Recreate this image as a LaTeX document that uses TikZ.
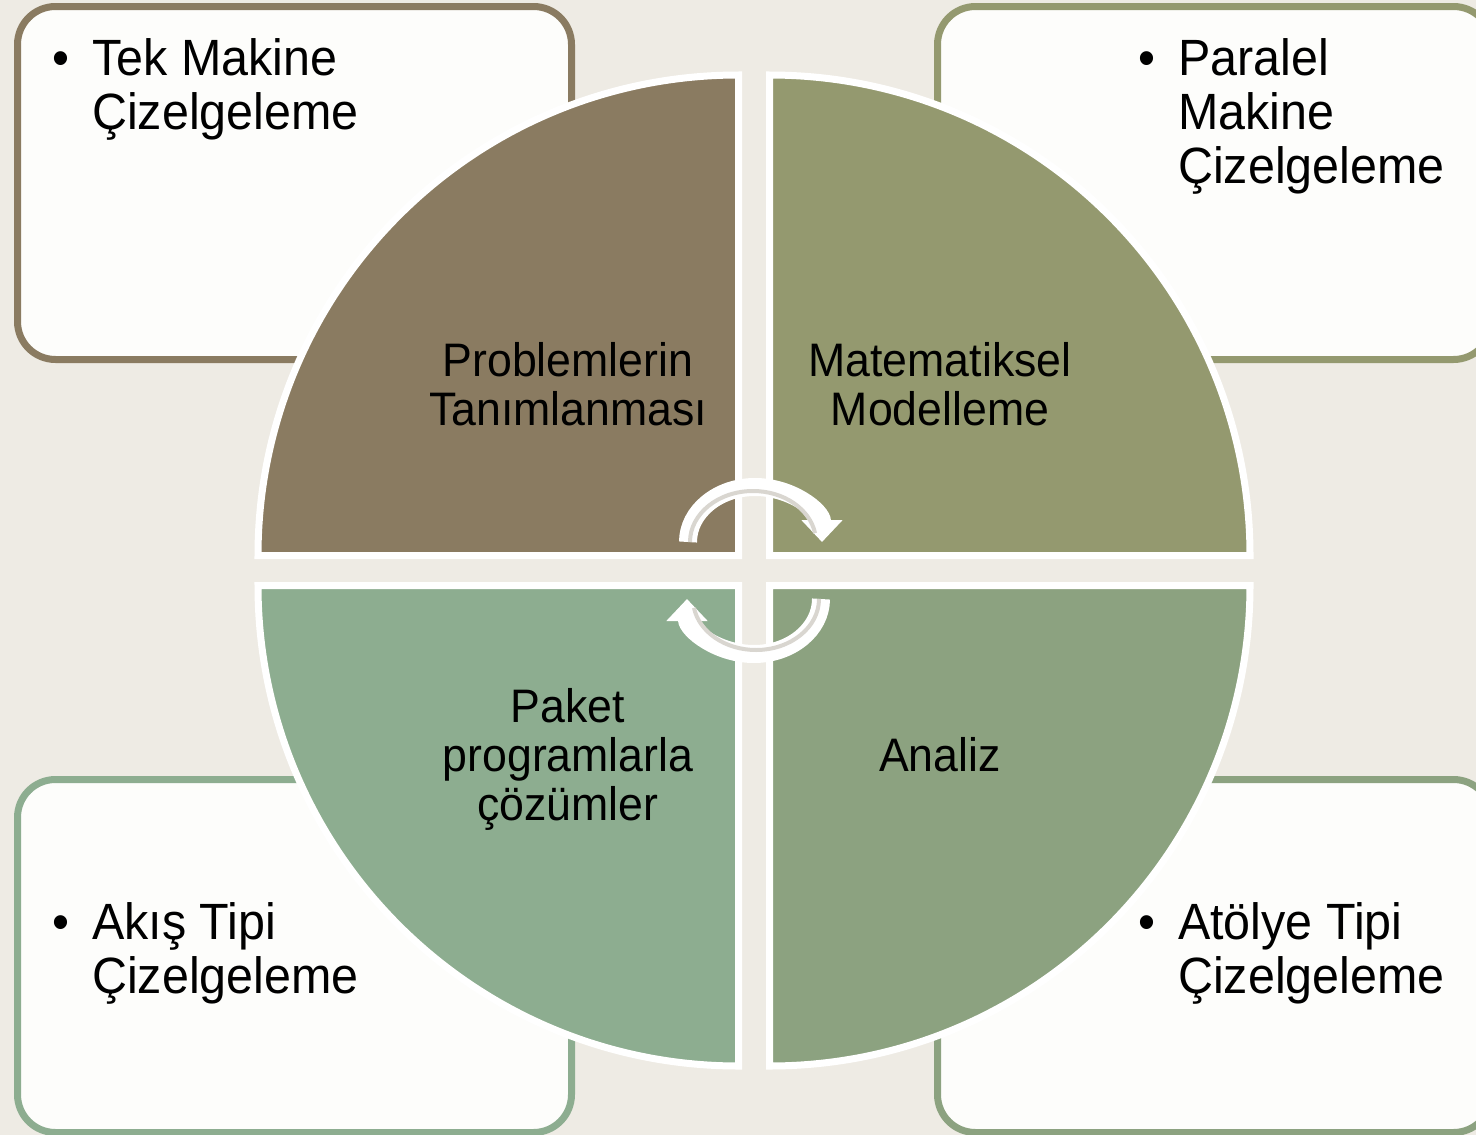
\documentclass[tikz,border=0pt]{standalone}
\usepackage{fontspec}
\setmainfont{Liberation Sans}[FakeStretch=0.95]
\usetikzlibrary{arrows.meta}

\definecolor{bgcol}{HTML}{EEEBE4}
\definecolor{boxfill}{HTML}{FDFDFB}
\definecolor{qbrown}{HTML}{8A7B61}
\definecolor{qolive}{HTML}{94996F}
\definecolor{qsage}{HTML}{8DAD90}
\definecolor{qgreen}{HTML}{8CA280}
\definecolor{arrowgrey}{HTML}{D9D6D0}

\tikzset{
  boxframe/.style={line width=7pt, rounded corners=38pt, fill=boxfill},
  quadrant/.style={draw=white, line width=7pt, line join=miter},
  itemtext/.style={font=\fontsize{51}{54}\selectfont, inner sep=0pt, anchor=base west},
  bulletmark/.style={font=\fontsize{51}{54}\selectfont, inner sep=0pt, anchor=base},
  quadtext/.style={font=\fontsize{47}{49}\selectfont, inner sep=0pt, anchor=base},
  cyclearrow/.style={draw=white, line width=18pt, -{Triangle[width=40pt,length=22pt]}},
  cycleline/.style={draw=arrowgrey, line width=4pt},
}

\begin{document}
\begin{tikzpicture}[x=1pt, y=-1pt]
  \useasboundingbox (0,0) rectangle (1476,1135);
  \fill[bgcol] (0,0) rectangle (1476,1135);

  % corner boxes
  \draw[boxframe, draw=qbrown] (17.5,6.5) rectangle (571.5,359.5);
  \draw[boxframe, draw=qolive] (937.5,6.5) rectangle (1491.5,359.5);
  \draw[boxframe, draw=qsage]  (17.5,779.5) rectangle (571.5,1132.5);
  \draw[boxframe, draw=qgreen] (937.5,779.5) rectangle (1491.5,1132.5);

  % box items
  \node[bulletmark] (b1) at (61,75) {•};
  \node[itemtext] (t1a) at (92,75) {Tek Makine};
  \node[itemtext] (t1b) at (92,129) {Çizelgeleme};

  \node[bulletmark] (b2) at (1147,75) {•};
  \node[itemtext] (t2a) at (1178,75) {Paralel};
  \node[itemtext] (t2b) at (1178,129) {Makine};
  \node[itemtext] (t2c) at (1178,183) {Çizelgeleme};

  \node[bulletmark] (b3) at (61,939) {•};
  \node[itemtext] (t3a) at (92,939) {Akış Tipi};
  \node[itemtext] (t3b) at (92,993) {Çizelgeleme};

  \node[bulletmark] (b4) at (1147,939) {•};
  \node[itemtext] (t4a) at (1178,939) {Atölye Tipi};
  \node[itemtext] (t4b) at (1178,993) {Çizelgeleme};

  % four quarter discs
  \filldraw[quadrant, fill=qbrown] (738.5,555.5) -- (258,555.5) arc (180:270:480.5) -- cycle;
  \filldraw[quadrant, fill=qolive] (769.5,555.5) -- (769.5,75) arc (270:360:480.5) -- cycle;
  \filldraw[quadrant, fill=qgreen] (769.5,585.5) -- (1250,585.5) arc (0:90:480.5) -- cycle;
  \filldraw[quadrant, fill=qsage]  (738.5,585.5) -- (738.5,1066) arc (90:180:480.5) -- cycle;

  % quadrant labels
  \node[quadtext] (q1a) at (568,376) {Problemlerin};
  \node[quadtext] (q1b) at (568,425) {Tanımlanması};
  \node[quadtext] (q2a) at (940,376) {Matematiksel};
  \node[quadtext] (q2b) at (940,425) {Modelleme};
  \node[quadtext] (q3a) at (568,722) {Paket};
  \node[quadtext] (q3b) at (568,771) {programlarla};
  \node[quadtext] (q3c) at (568,820) {çözümler};
  \node[quadtext] (q4a) at (940,771) {Analiz};

  % cycle arrows in the middle
  \coordinate (upstart) at (688,542);
  \coordinate (downstart) at (821,599);
  \draw[cyclearrow] (upstart) arc (180:360:67 and 55);
  \draw[cycleline] (690,542) arc (180:350:63 and 51);
  \draw[cyclearrow] (downstart) arc (0:180:67 and 55);
  \draw[cycleline] (819,599) arc (0:170:63 and 51);
\end{tikzpicture}
\end{document}
